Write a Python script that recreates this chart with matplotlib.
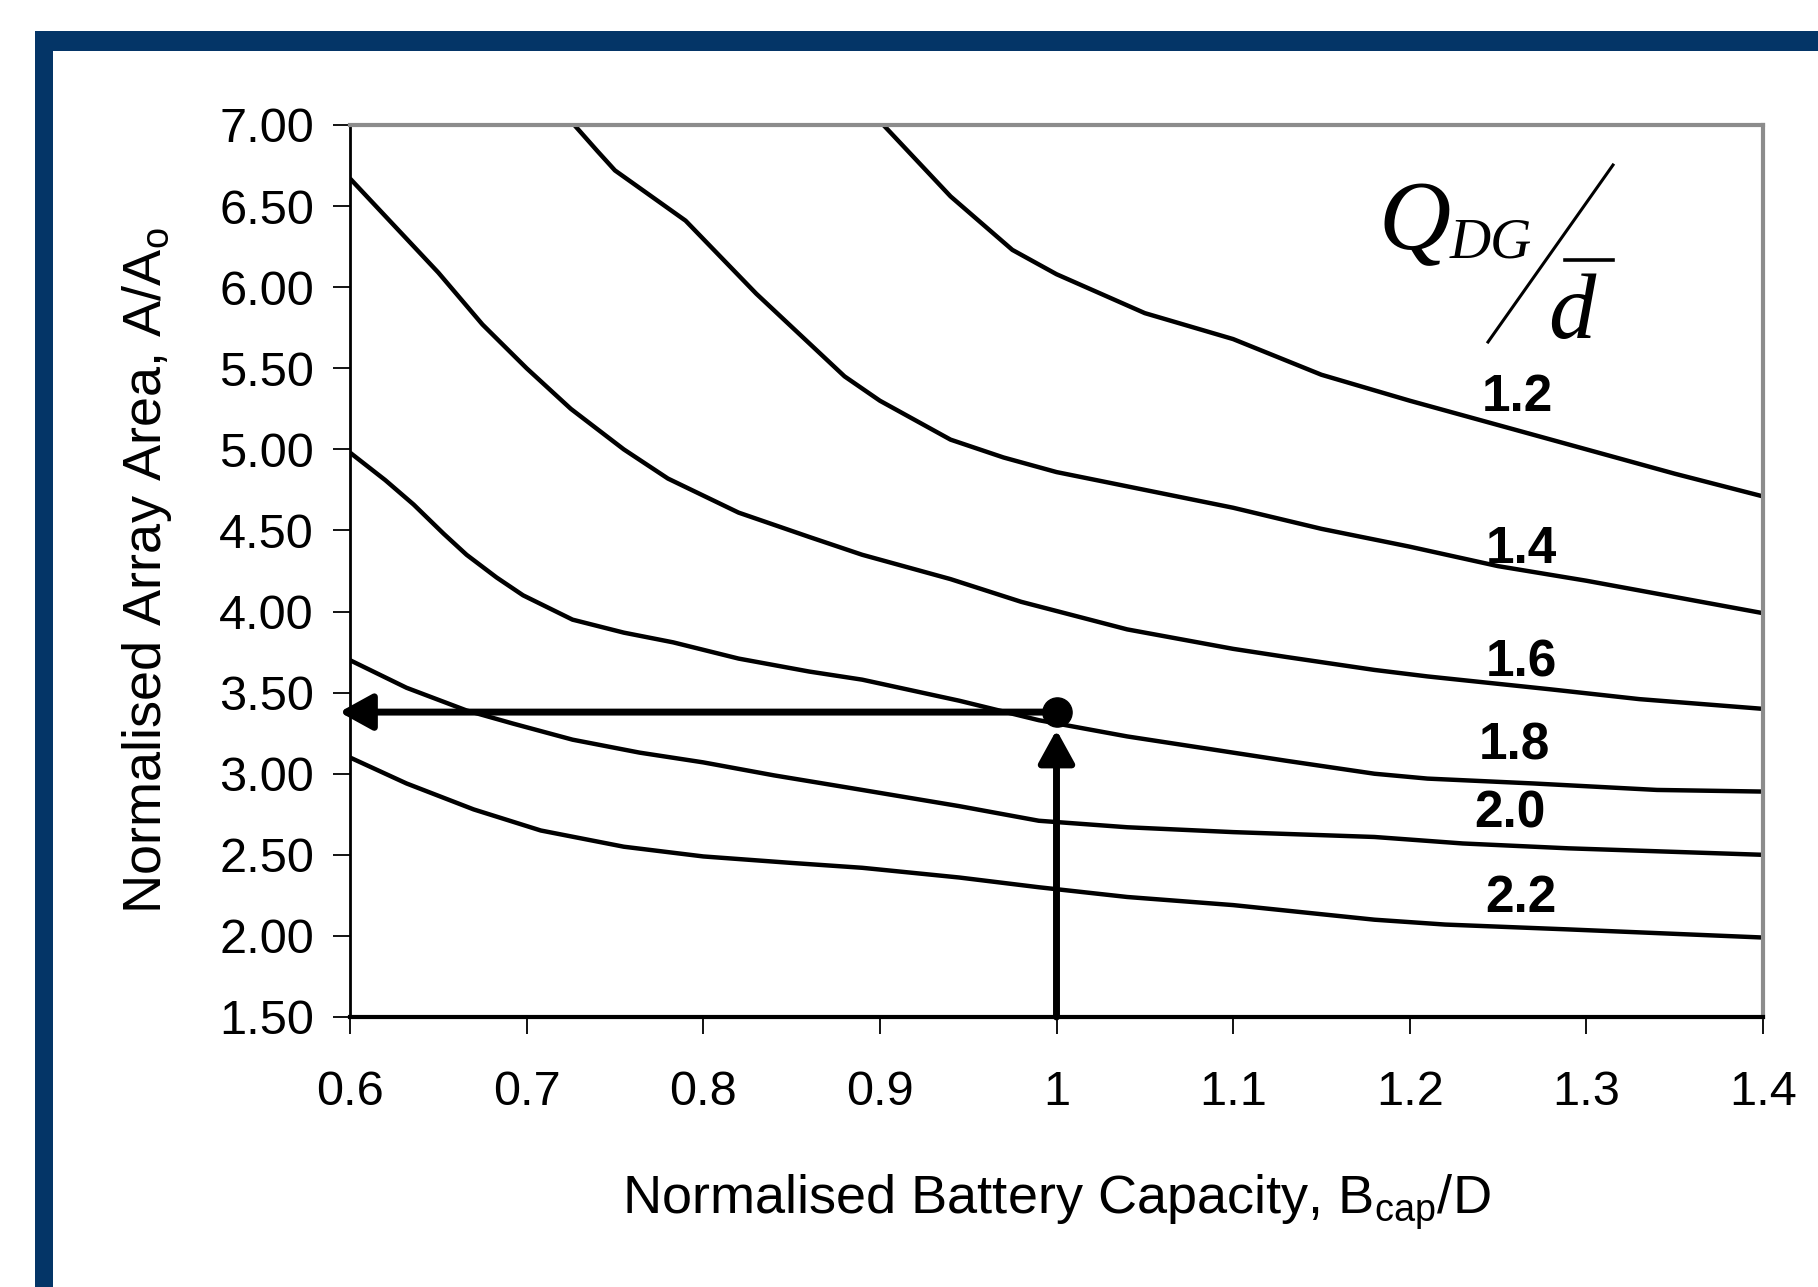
import matplotlib
matplotlib.use("Agg")
import matplotlib.pyplot as plt
from matplotlib.patches import Rectangle
from matplotlib.lines import Line2D

plt.rcParams['font.family'] = 'Liberation Sans'
plt.rcParams['mathtext.fontset'] = 'custom'
plt.rcParams['mathtext.rm'] = 'Liberation Sans'
plt.rcParams['mathtext.it'] = 'Liberation Sans:italic'

# curves, one per Q_DG / d ratio
q12_x = [0.902, 0.94, 0.975, 1.00, 1.05, 1.10, 1.15, 1.20, 1.25, 1.30, 1.35, 1.40]
q12_y = [7.00, 6.56, 6.23, 6.08, 5.84, 5.68, 5.46, 5.30, 5.15, 5.00, 4.85, 4.71]

q14_x = [0.727, 0.74, 0.75, 0.79, 0.83, 0.88, 0.90, 0.94, 0.97, 1.00, 1.05, 1.10,
         1.15, 1.20, 1.25, 1.30, 1.35, 1.40]
q14_y = [7.00, 6.84, 6.72, 6.41, 5.96, 5.45, 5.30, 5.06, 4.95, 4.86, 4.75, 4.64,
         4.51, 4.40, 4.28, 4.19, 4.09, 3.99]

q16_x = [0.60, 0.625, 0.65, 0.675, 0.70, 0.725, 0.755, 0.78, 0.82, 0.86, 0.89,
         0.94, 0.98, 1.04, 1.10, 1.13, 1.18, 1.21, 1.28, 1.33, 1.40]
q16_y = [6.67, 6.38, 6.09, 5.77, 5.50, 5.25, 5.00, 4.82, 4.61, 4.46, 4.35,
         4.20, 4.06, 3.89, 3.77, 3.72, 3.64, 3.60, 3.52, 3.46, 3.40]

q18_x = [0.60, 0.62, 0.636, 0.653, 0.666, 0.683, 0.698, 0.726, 0.755, 0.783, 0.82,
         0.86, 0.89, 0.945, 0.99, 1.04, 1.10, 1.13, 1.18, 1.21, 1.27, 1.34, 1.40]
q18_y = [4.98, 4.81, 4.66, 4.48, 4.35, 4.21, 4.10, 3.95, 3.87, 3.81, 3.71,
         3.63, 3.58, 3.45, 3.33, 3.23, 3.13, 3.08, 3.00, 2.97, 2.94, 2.90, 2.89]

q20_x = [0.60, 0.632, 0.666, 0.692, 0.726, 0.764, 0.80, 0.84, 0.89, 0.945, 0.99,
         1.04, 1.10, 1.18, 1.23, 1.29, 1.40]
q20_y = [3.70, 3.53, 3.39, 3.31, 3.21, 3.13, 3.07, 2.99, 2.90, 2.80, 2.71,
         2.67, 2.64, 2.61, 2.57, 2.54, 2.50]

q22_x = [0.60, 0.632, 0.67, 0.708, 0.755, 0.80, 0.85, 0.89, 0.945, 0.99, 1.04,
         1.10, 1.18, 1.22, 1.29, 1.40]
q22_y = [3.10, 2.94, 2.78, 2.65, 2.55, 2.49, 2.45, 2.42, 2.36, 2.30, 2.24,
         2.19, 2.10, 2.07, 2.04, 1.99]

curves = [(q12_x, q12_y), (q14_x, q14_y), (q16_x, q16_y),
          (q18_x, q18_y), (q20_x, q20_y), (q22_x, q22_y)]
curve_labels = ['1.2', '1.4', '1.6', '1.8', '2.0', '2.2']
label_x = [1.261, 1.263, 1.263, 1.259, 1.257, 1.263]
label_y = [5.32, 4.38, 3.68, 3.17, 2.75, 2.23]

# design point
point_x = 1.0
point_y = 3.38

xticks = [0.6, 0.7, 0.8, 0.9, 1.0, 1.1, 1.2, 1.3, 1.4]
xtick_labels = ['0.6', '0.7', '0.8', '0.9', '1', '1.1', '1.2', '1.3', '1.4']
yticks = [1.5, 2.0, 2.5, 3.0, 3.5, 4.0, 4.5, 5.0, 5.5, 6.0, 6.5, 7.0]

W, H = 1818, 1287
fig = plt.figure(figsize=(W / 100, H / 100), dpi=100)

def fx(px):
    return px / W

def fy(py):
    return 1 - py / H

# dark blue frame (top and left bands, runs off the right/bottom edge)
navy = '#043567'
fig.add_artist(Rectangle((fx(35), fy(51)), 1, fy(31) - fy(51),
                         transform=fig.transFigure, color=navy, lw=0))
fig.add_artist(Rectangle((fx(35), 0), fx(53) - fx(35), fy(31),
                         transform=fig.transFigure, color=navy, lw=0))

ax = fig.add_axes([fx(350), fy(1017), fx(1763) - fx(350), fy(125) - fy(1017)])

for (cx, cy) in curves:
    ax.plot(cx, cy, color='black', lw=3.2, solid_joinstyle='round',
            solid_capstyle='butt')

for lab, lx, ly in zip(curve_labels, label_x, label_y):
    ax.text(lx, ly, lab, fontsize=37, fontweight='bold', ha='center', va='center')

# arrows to the design point
arrow_kw = dict(arrowstyle='-|>,head_length=1.0,head_width=0.55', color='black',
                lw=5, mutation_scale=20, shrinkA=0, shrinkB=0)
ax.annotate('', xy=(0.594, point_y), xytext=(point_x, point_y),
            arrowprops=arrow_kw, annotation_clip=False)
ax.annotate('', xy=(point_x, 3.27), xytext=(point_x, 1.5),
            arrowprops=arrow_kw, annotation_clip=False)
ax.plot([point_x], [point_y], 'o', color='black', ms=21, clip_on=False, zorder=5)

ax.set_xlim(0.6, 1.4)
ax.set_ylim(1.5, 7.0)
ax.set_xticks(xticks)
ax.set_xticklabels(xtick_labels)
ax.set_yticks(yticks)
ax.set_yticklabels(['%.2f' % v for v in yticks])
ax.tick_params(axis='x', labelsize=35, length=12, width=1.3, pad=26)
ax.tick_params(axis='y', labelsize=35, length=12, width=1.3, pad=14)

ax.spines['top'].set_color('#8c8c8c')
ax.spines['right'].set_color('#8c8c8c')
ax.spines['top'].set_linewidth(3)
ax.spines['right'].set_linewidth(3)
ax.spines['left'].set_linewidth(2)
ax.spines['bottom'].set_linewidth(3)

ax_h = fy(125) - fy(1017)
ax_w = fx(1763) - fx(350)
ax.set_xlabel(r'Normalised Battery Capacity, B$_\mathregular{cap}$/D', fontsize=39)
ax.xaxis.set_label_coords(0.5, (fy(1172) - fy(1017)) / ax_h)
ax.set_ylabel(r'Normalised Array Area, A/A$_\mathregular{o}$', fontsize=39)
ax.yaxis.set_label_coords((fx(174) - fx(350)) / ax_w, 0.5)

# Q_DG / d-bar heading
serif_it = dict(family='Liberation Serif', style='italic', ha='left', va='baseline')
fig.text(fx(1378), fy(249), 'Q', fontsize=72, **serif_it)
fig.text(fx(1450), fy(257), 'DG', fontsize=41, **serif_it)
fig.text(fx(1548), fy(338), 'd', fontsize=68, **serif_it)
fig.add_artist(Line2D([fx(1488), fx(1613)], [fy(342), fy(165)],
                      transform=fig.transFigure, color='black', lw=2.2))
fig.add_artist(Line2D([fx(1565), fx(1613)], [fy(260), fy(260)],
                      transform=fig.transFigure, color='black', lw=2.6))

fig.savefig('out.png', dpi=100)
